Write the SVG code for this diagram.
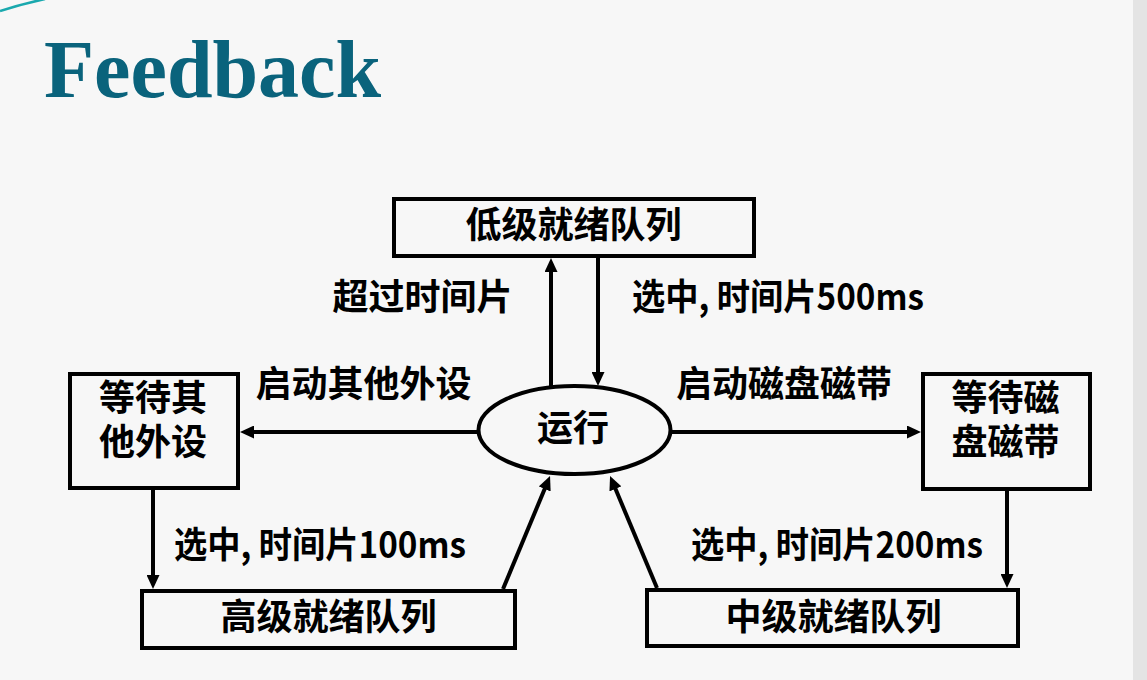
<svg xmlns="http://www.w3.org/2000/svg" width="1147" height="680" viewBox="0 0 1147 680">
  <style>
    .box { fill: none; stroke: #000; stroke-width: 4; }
    .lbl { font-family: "Noto Sans CJK SC", "Liberation Sans", sans-serif; font-size: 36px; font-weight: 700; fill: #000; }
    .two { font-family: "Liberation Sans", "Noto Sans CJK SC", sans-serif; }
    .mid { text-anchor: middle; }
    .edge { fill: none; stroke: #000; stroke-width: 4; marker-end: url(#head); }
    .title { font-family: "Liberation Serif", serif; font-size: 82px; font-weight: 700; fill: #0a637c; }
  </style>
  <defs>
    <marker id="head" markerUnits="userSpaceOnUse" markerWidth="14" markerHeight="13" viewBox="0 0 14 13" refX="3" refY="6.5" orient="auto">
      <path d="M0,0 L14,6.5 L0,13 z" fill="#000"/>
    </marker>
  </defs>

  <!-- slide background -->
  <rect x="0" y="0" width="1147" height="680" fill="#f7f7f7"/>
  <rect x="1133" y="0" width="14" height="680" fill="#e4e4e4"/>
  <path d="M0,11 Q22,4 45,-1" fill="none" stroke="#1aa9ae" stroke-width="2.5"/>

  <text class="title" x="44" y="97">Feedback</text>

  <!-- connectors -->
  <g id="connectors">
    <line class="edge" x1="551" y1="386" x2="551" y2="269"/>
    <line class="edge" x1="598" y1="258" x2="598" y2="375"/>
    <line class="edge" x1="477" y1="432" x2="251" y2="432"/>
    <line class="edge" x1="672" y1="432" x2="910" y2="432"/>
    <line class="edge" x1="153" y1="490" x2="153" y2="578"/>
    <line class="edge" x1="1007" y1="491" x2="1007" y2="577"/>
    <line class="edge" x1="503" y1="589" x2="545.8" y2="486.2"/>
    <line class="edge" x1="657" y1="588" x2="614.3" y2="486.1"/>

    <text class="lbl mid" x="422.5" y="310">超过时间片</text>
    <text class="lbl" x="632" y="310" textLength="292" lengthAdjust="spacingAndGlyphs">选中, 时间片500ms</text>
    <text class="lbl mid" x="363.5" y="397">启动其他外设</text>
    <text class="lbl mid" x="784" y="397">启动磁盘磁带</text>
    <text class="lbl" x="174" y="558" textLength="292" lengthAdjust="spacingAndGlyphs">选中, 时间片100ms</text>
    <text class="lbl" x="691" y="558" textLength="292" lengthAdjust="spacingAndGlyphs">选中, 时间片200ms</text>
  </g>

  <!-- nodes -->
  <g id="low-queue">
    <rect class="box" x="394" y="199" width="360" height="57"/>
    <text class="lbl mid" x="573.5" y="238">低级就绪队列</text>
  </g>

  <g id="running">
    <ellipse class="box" cx="574.5" cy="430" rx="96" ry="44"/>
    <text class="lbl mid" x="573" y="441">运行</text>
  </g>

  <g id="wait-other">
    <rect class="box" x="70" y="374" width="168" height="114"/>
    <text class="lbl two mid" x="153" y="411">等待其</text>
    <text class="lbl two mid" x="153" y="455">他外设</text>
  </g>

  <g id="wait-disk">
    <rect class="box" x="923" y="374" width="167" height="115"/>
    <text class="lbl two mid" x="1005.5" y="411">等待磁</text>
    <text class="lbl two mid" x="1005.5" y="455">盘磁带</text>
  </g>

  <g id="high-queue">
    <rect class="box" x="142" y="591" width="373" height="57"/>
    <text class="lbl mid" x="328.5" y="630">高级就绪队列</text>
  </g>

  <g id="mid-queue">
    <rect class="box" x="647" y="590" width="371" height="56"/>
    <text class="lbl mid" x="833.5" y="630">中级就绪队列</text>
  </g>
</svg>
